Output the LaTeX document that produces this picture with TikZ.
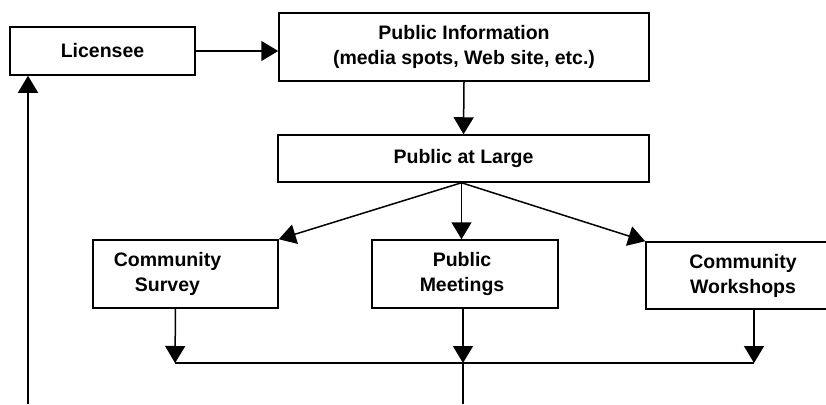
\documentclass[tikz,border=0pt]{standalone}
\usepackage{fontspec}
\setmainfont{Liberation Sans}
\usetikzlibrary{arrows.meta}
\newcommand\dfont{\fontsize{19.5}{25}\selectfont\bfseries}
\begin{document}
\begin{tikzpicture}[x=1pt,y=-1pt,
  box/.style={draw, line width=1.5pt, inner sep=0pt, align=center, font=\dfont},
  txt/.style={inner sep=0pt, align=center, font=\dfont},
  conn/.style={line width=1.5pt, -{Triangle[length=17pt,width=20pt]}},
  plain/.style={line width=1.5pt}]
\useasboundingbox (0,0) rectangle (826,404);
\clip (0,0) rectangle (826,404);
\node[box, minimum width=185pt, minimum height=48pt] (lic) at (102.5,51) {Licensee};
\node[box, minimum width=370pt, minimum height=68pt] (pi) at (464,47) {Public Information\\(media spots, Web site, etc.)};
\node[box, minimum width=371pt, minimum height=47pt] (pal) at (463.5,158.5) {Public at Large};
\node[box, minimum width=185pt, minimum height=68pt] (cs) at (185.5,274) {};
\node[txt] (cst) at ([xshift=-18pt]cs.center) {Community\\Survey};
\node[box, minimum width=186pt, minimum height=68pt] (pm) at (465,274) {};
\node[txt] (pmt) at ([xshift=-3pt]pm.center) {Public\\Meetings};
\node[box, minimum width=194pt, minimum height=67pt] (cw) at (743,275.5) {Community\\Workshops};
% connectors
\draw[conn] (lic.east) -- (lic.east -| pi.west);
\draw[conn] (pi.south) -- (pal.north);
\coordinate (fan) at ([xshift=-2pt]pal.south);
\draw[conn] (fan) -- (cs.north east);
\draw[conn] (fan) -- (fan |- pm.north);
\draw[conn] (fan) -- (cw.north west);
\coordinate (csb) at ([xshift=-10pt]cs.south);
\coordinate (pmb) at ([xshift=-2pt]pm.south);
\coordinate (cwb) at ([xshift=11pt]cw.south);
\coordinate (busL) at (175,363);
\coordinate (busM) at (463,363);
\coordinate (busR) at (754,363);
\coordinate (outM) at (463,404);
\coordinate (outL) at (28,404);
\draw[conn] (csb) -- (busL);
\draw[conn] (pmb) -- (busM);
\draw[conn] (cwb) -- (busR);
\draw[plain] (busL) -- (busR);
\draw[plain] (busM) -- (outM);
\draw[conn] (outL) -- (outL |- lic.south);
\end{tikzpicture}
\end{document}
